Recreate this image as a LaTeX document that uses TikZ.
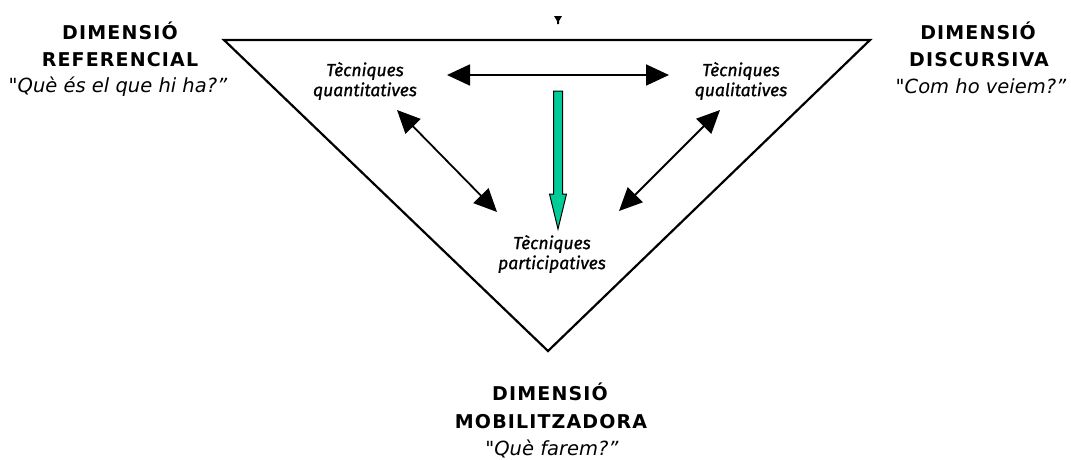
\documentclass[tikz,border=0pt]{standalone}
\usepackage{fontspec}
\setmainfont{DejaVu Sans}
\newfontfamily\dimfont{DejaVu Sans}[LetterSpace=6]
\newfontfamily\quotefont{DejaVu Sans}
\newfontfamily\techfont{Fira Sans}[FakeBold=1]
\usetikzlibrary{arrows.meta,calc}
\definecolor{arrowgreen}{HTML}{00CC99}
\tikzset{
  dimtitle/.style={anchor=base, inner sep=0pt, font=\dimfont\bfseries\fontsize{19}{21}\selectfont},
  dimquote/.style={anchor=base, inner sep=0pt, font=\quotefont\itshape\fontsize{19.5}{22}\selectfont},
  techlabel/.style={align=center, inner sep=0pt, font=\techfont\itshape\fontsize{17.5}{20}\selectfont},
  frame/.style={draw=black, line width=2.2pt, line join=miter},
  linkarrow/.style={draw=black, line width=1.8pt,
    {Triangle[length=23pt,width=21pt]}-{Triangle[length=23pt,width=21pt]}},
  greenarrow/.style={draw=black, fill=arrowgreen, line width=1pt, line join=miter}
}
\begin{document}
\begin{tikzpicture}[x=1pt,y=-1pt]
\useasboundingbox (0,0) rectangle (1071,459);
% triangle
\coordinate (tl) at (224,40);
\coordinate (tr) at (870,40);
\coordinate (bt) at (548,351);
\draw[frame] (tl) -- (tr) -- (bt) -- cycle;
% small mark at the top
\coordinate (mk) at (558,16);
\fill[black] (mk) ++(-4,0) -- ++(8,0) -- ++(-3,5) -- ++(0,3) -- ++(-2,0) -- ++(0,-3) -- cycle;
% dimension labels
\node[dimtitle] (refA) at (120,39) {DIMENSIÓ};
\node[dimtitle] (refB) at (120,66) {REFERENCIAL};
\node[dimquote] (refC) at (118,92) {"Què és el que hi ha?”};
\node[dimtitle] (disA) at (978,39) {DIMENSIÓ};
\node[dimtitle] (disB) at (979,66) {DISCURSIVA};
\node[dimquote] (disC) at (981,93) {"Com ho veiem?”};
\node[dimtitle] (mobA) at (550,400) {DIMENSIÓ};
\node[dimtitle] (mobB) at (551,428) {MOBILITZADORA};
\node[dimquote] (mobC) at (552,455) {"Què farem?”};
% technique labels
\node[techlabel] (quant) at (365,81) {Tècniques\\quantitatives};
\node[techlabel] (qual) at (741,81) {Tècniques\\qualitatives};
\node[techlabel] (part) at (552,254) {Tècniques\\participatives};
% arrow end points
\coordinate (hL) at (447,75);
\coordinate (hR) at (669,75);
\coordinate (lU) at (397,110);
\coordinate (lD) at (497,212);
\coordinate (rU) at (720,110);
\coordinate (rD) at (619,211);
\draw[linkarrow] (hL) -- (hR);
\draw[linkarrow] (lU) -- (lD);
\draw[linkarrow] (rU) -- (rD);
% green arrow
\coordinate (gTop) at (558,91);
\coordinate (gTip) at (558,229);
\draw[greenarrow] ($(gTop)+(-4.5,0)$) -- ($(gTop)+(4.5,0)$) -- ($(gTip)+(4.5,-35)$)
  -- ($(gTip)+(8.5,-35)$) -- (gTip) -- ($(gTip)+(-8.5,-35)$) -- ($(gTip)+(-4.5,-35)$) -- cycle;
\end{tikzpicture}
\end{document}
